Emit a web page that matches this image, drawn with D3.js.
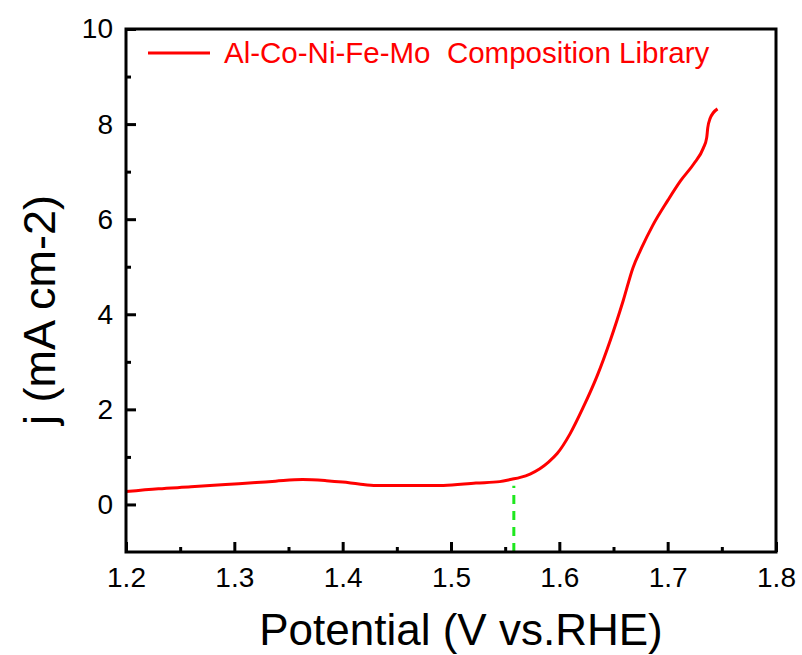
<html>
<head>
<style>
  body { margin: 0; background: #fff; }
  text { font-family: "Liberation Sans", Arial, sans-serif; }
</style>
</head>
<body>
<svg id="chart" width="802" height="655"></svg>
<script src="https://d3js.org/d3.v7.min.js"></script>
<script>
// LSV curve
const potential = [1.200, 1.230, 1.260, 1.292, 1.320, 1.338, 1.363, 1.385, 1.400, 1.415, 1.431, 1.460, 1.493, 1.523, 1.545, 1.556, 1.564, 1.573, 1.582, 1.590, 1.598, 1.610, 1.622, 1.635, 1.647, 1.659, 1.668, 1.676, 1.686, 1.700, 1.712, 1.724, 1.733, 1.736, 1.737, 1.739, 1.746]
const current = [0.27, 0.33, 0.37, 0.42, 0.46, 0.49, 0.525, 0.50, 0.47, 0.43, 0.40, 0.40, 0.40, 0.45, 0.48, 0.53, 0.57, 0.64, 0.75, 0.89, 1.07, 1.49, 2.04, 2.71, 3.45, 4.29, 4.98, 5.40, 5.86, 6.39, 6.81, 7.16, 7.50, 7.71, 7.92, 8.11, 8.32]
const onsetPotential = 1.558
const onsetCurrent = 0.54
const xTicks = [1.2, 1.3, 1.4, 1.5, 1.6, 1.7, 1.8]
const xMinor = [1.25, 1.35, 1.45, 1.55, 1.65, 1.75]
const yTicks = [0, 2, 4, 6, 8, 10]
const yMinor = [1, 3, 5, 7, 9]
const legendLabel = "Al-Co-Ni-Fe-Mo  Composition Library"

let svg = d3.select("#chart")
let plotLeft = 126, plotRight = 776, plotTop = 29, plotBottom = 552

let x = d3.scaleLinear().domain([1.2, 1.8]).range([plotLeft, plotRight])
let y = d3.scaleLinear().domain([-1, 10]).range([plotBottom, plotTop])

let points = potential.map((v, i) => [v, current[i]])

// onset marker
svg.append("line")
    .attr("x1", x(onsetPotential)).attr("x2", x(onsetPotential))
    .attr("y1", y(-1)).attr("y2", y(onsetCurrent) + 7)
    .attr("stroke", "#1ee81e")
    .attr("stroke-width", 3)
    .attr("stroke-dasharray", "9,7")

// curve
svg.append("path")
    .datum(points)
    .attr("fill", "none")
    .attr("stroke", "#ff0000")
    .attr("stroke-width", 3)
    .attr("stroke-linejoin", "round")
    .attr("d", d3.line().x(d => x(d[0])).y(d => y(d[1])).curve(d3.curveMonotoneX))

// frame
svg.append("rect")
    .attr("x", plotLeft).attr("y", plotTop)
    .attr("width", plotRight - plotLeft).attr("height", plotBottom - plotTop)
    .attr("fill", "none").attr("stroke", "#000").attr("stroke-width", 3)

// x axis (ticks inward)
let xAxis = svg.append("g").attr("transform", `translate(0,${plotBottom})`)
xAxis.append("g").call(d3.axisBottom(x).tickValues(xMinor).tickSize(-5).tickFormat(""))
xAxis.append("g").call(d3.axisBottom(x).tickValues(xTicks).tickSize(-10).tickFormat(d3.format(".1f")).tickPadding(15))
xAxis.selectAll(".domain").remove()
xAxis.selectAll("line").attr("stroke-width", 3)
xAxis.selectAll("text").attr("font-size", 28).attr("fill", "#000")

// y axis
let yAxis = svg.append("g").attr("transform", `translate(${plotLeft},0)`)
yAxis.append("g").call(d3.axisLeft(y).tickValues(yMinor).tickSize(-5).tickFormat(""))
yAxis.append("g").call(d3.axisLeft(y).tickValues(yTicks).tickSize(-10).tickFormat(d3.format("d")).tickPadding(13))
yAxis.selectAll(".domain").remove()
yAxis.selectAll("line").attr("stroke-width", 3)
yAxis.selectAll("text").attr("font-size", 28).attr("fill", "#000")

// axis titles
svg.append("text")
    .attr("x", (plotLeft + plotRight) / 2 + 10).attr("y", 645)
    .attr("text-anchor", "middle")
    .attr("font-size", 44)
    .text("Potential (V vs.RHE)")

svg.append("text")
    .attr("transform", "translate(55,310) rotate(-90)")
    .attr("text-anchor", "middle")
    .attr("font-size", 45)
    .text("j (mA cm-2)")

// legend
svg.append("line")
    .attr("x1", 148).attr("x2", 210).attr("y1", 53).attr("y2", 53)
    .attr("stroke", "#ff0000").attr("stroke-width", 3)
svg.append("text")
    .attr("x", 224).attr("y", 63)
    .attr("font-size", 29.5)
    .attr("fill", "#ff0000")
    .style("white-space", "pre")
    .text(legendLabel)
</script>
</body>
</html>
